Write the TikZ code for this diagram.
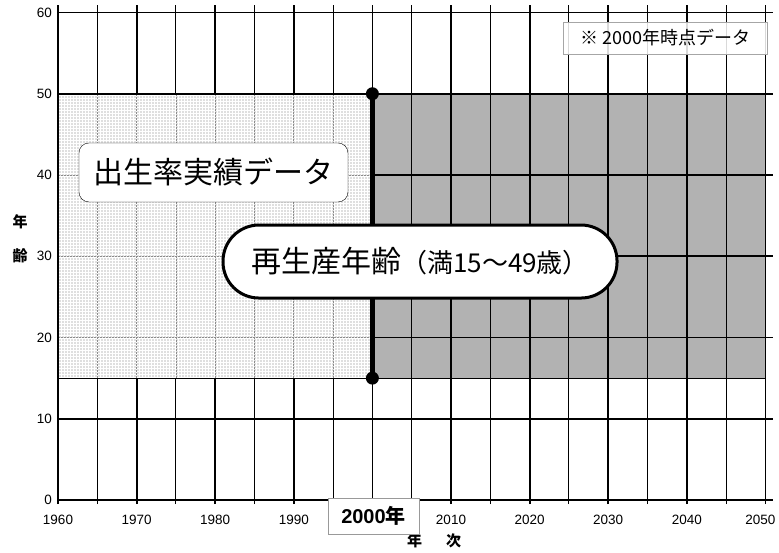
\documentclass[tikz,border=0pt]{standalone}
\usepackage{fontspec}
\setmainfont{Liberation Sans}
\newfontfamily\jp{Noto Sans CJK JP}
\usetikzlibrary{positioning}

\tikzset{
  decade/.style={line width=1.8pt, black},
  halfdecade/.style={line width=1pt, black},
  pastline/.style={line width=0.8pt, gray!90, dash pattern=on 2pt off 1pt},
  ticklabel/.style={font=\fontsize{13.5}{16}\selectfont, inner sep=0pt},
  axistitle/.style={font=\jp\bfseries\fontsize{15}{17}\selectfont, inner sep=0pt},
  dot/.style={circle, fill=black, minimum size=13pt, inner sep=0pt},
  notebox/.style={draw=gray!70, line width=0.8pt, fill=white, fill opacity=0.85, text opacity=1,
    minimum width=204pt, minimum height=32pt, inner sep=0pt,
    font=\jp\fontsize{18}{20}\selectfont},
  databox/.style={draw=black, thin, rounded corners=10pt, fill=white,
    minimum width=269pt, minimum height=59pt, inner sep=0pt,
    font=\jp\fontsize{30}{32}\selectfont},
  agebox/.style={draw=black, line width=3pt, rounded corners=36pt, fill=white,
    minimum width=394pt, minimum height=73pt, inner sep=0pt,
    font=\jp\fontsize{30}{32}\selectfont},
  yearbox/.style={draw=gray!80, fill=white, minimum width=91pt, minimum height=36pt,
    inner sep=0pt, font=\bfseries\fontsize{20}{22}\selectfont}
}

\begin{document}
\begin{tikzpicture}[x=7.86pt, y=8.125pt]
  \useasboundingbox (-58pt,-52pt) rectangle (721pt,500pt);

  % reproductive age band
  \fill[gray!60] (40,15) rectangle (90,50);
  \fill[gray!25] (0,15) rectangle (40,50);

  % grid
  \foreach \x in {5,15,...,85}
    \draw[halfdecade] ([yshift=-4pt]\x,0) -- ([yshift=7pt]\x,60);
  \foreach \x in {0,10,...,90}
    \draw[decade] ([yshift=-4pt]\x,0) -- ([yshift=7pt]\x,60);
  \foreach \y in {0,10,...,60}
    \draw[decade] (0,\y) -- ([xshift=8pt]90,\y);
  \draw[line width=0.8pt] (0,15) -- (90,15);

  % observed data part
  \begin{scope}
    \clip (0,15) rectangle (40,50);
    \fill[gray!25] (0,15) rectangle (40,50);
    \draw[white, line width=0.6pt, step=3pt] (0,15) grid (40,50);
    \foreach \x in {5,10,...,35}
      \draw[pastline] (\x,15) -- (\x,50);
    \foreach \y in {20,30,40}
      \draw[pastline] (0,\y) -- (40,\y);
  \end{scope}
  \draw[decade] (0,15) -- (0,50);
  \draw[decade] (0,50) -- (40,50);
  \draw[line width=0.8pt] (0,15) -- (40,15);

  % axis labels
  \foreach \y in {0,10,...,60}
    \node[ticklabel, anchor=east] at ([xshift=-6pt]0,\y) {\y};
  \foreach \yr/\dx in {1960/0,1970/0,1980/0,1990/0,2010/0,2020/0,2030/0,2040/0,2050/-5}
    \node[ticklabel] at ([xshift=\dx pt, yshift=-20pt]{\yr-1960},0) {\yr};
  \node[axistitle] (nen) at (-4.83,34.2) {年};
  \node[axistitle] (rei) at (-4.83,30.03) {齢};
  \node[axistitle] (nenji) at (47.84,-5.05) {年\hspace{24pt}次};

  % year 2000 marker
  \node[dot] (top) at (40,50) {};
  \node[dot] (bottom) at (40,15) {};
  \draw[line width=4.5pt] (top.center) -- (bottom.center);

  % boxes
  \node[databox] (data) at (19.78,40.31) {出生率実績データ};
  \node[agebox] (age) at (46.06,29.35)
    {再生産年齢{\fontsize{26}{28}\selectfont（満15～49歳）}};
  \node[notebox] (note) at (77.23,56.86) {※ 2000年時点データ};
  \node[yearbox] (year) at (40.14,-1.97) {2000{\jp\bfseries 年}};
\end{tikzpicture}
\end{document}
